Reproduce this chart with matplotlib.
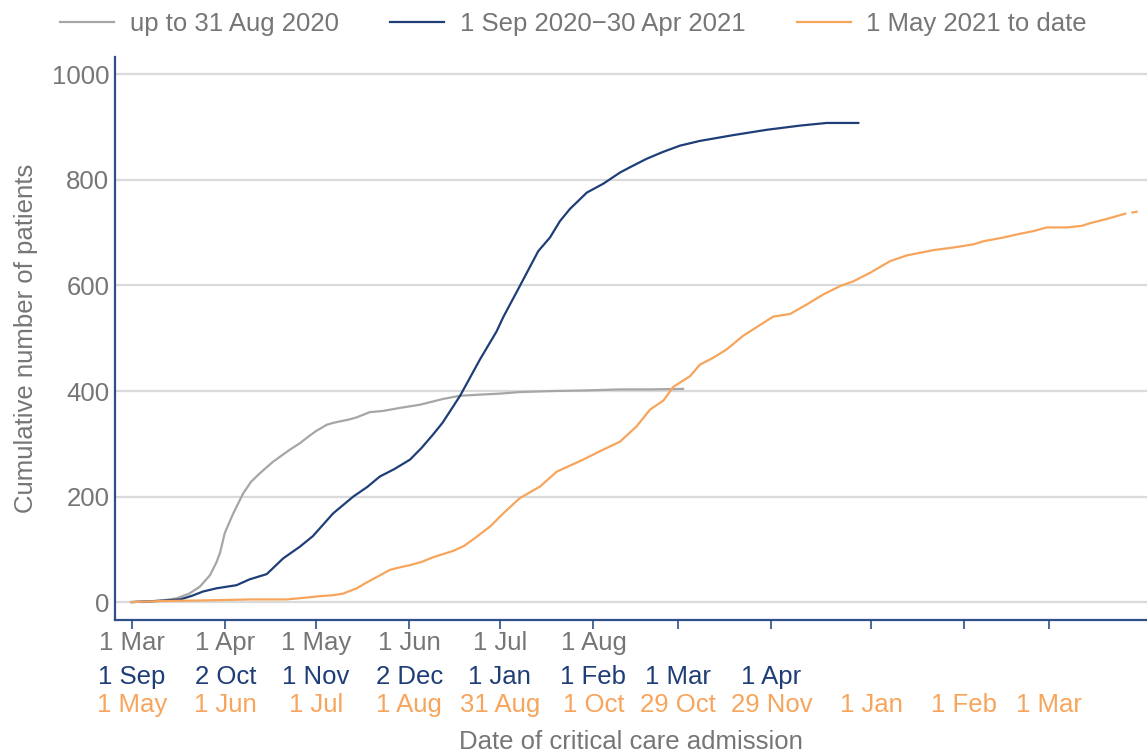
import matplotlib
matplotlib.use("Agg")
import matplotlib.pyplot as plt

plt.rcParams["font.family"] = ["Liberation Sans", "DejaVu Sans"]

COLOR_GRAY = "#a6a6a6"
COLOR_BLUE = "#1f3e77"
COLOR_ORANGE = "#f7a55c"
COLOR_TEXT = "#767676"
COLOR_AXIS = "#2f4f88"
COLOR_GRID = "#dadada"
FS = 18.5

# days since start of each period -> cumulative patients
gray_days = [0, 5, 10, 14.8, 19, 22.5, 25.9, 28, 29.2, 30.8, 33.6, 36.9, 39.5, 42.4,
             46.8, 52.4, 55.7, 57.9, 61, 64.6, 67, 72, 74.5, 78.9, 83, 88.9, 95.5,
             103.2, 108.8, 115, 122, 128.6, 140, 150, 161.8, 171.8, 182.7]
gray_vals = [0, 1, 3, 7, 16, 29, 51, 75, 93, 131, 168, 206, 228, 244,
             266, 289, 301, 311, 324, 336, 340, 346, 350, 360, 362, 368, 374,
             385, 391, 393, 395, 398, 400, 401, 403, 403, 404]

blue_days = [0, 8, 16, 20, 23.6, 28, 34.7, 39, 44.7, 50.2, 55.7, 60, 66.7, 73.4, 78,
             82.2, 87, 92.2, 96, 99.9, 103, 108.8, 115.4, 120.9, 123.1, 128.6, 134.7,
             138.6, 141.9, 145.2, 150.8, 156.3, 161.8, 165.1, 170.6, 176, 181.7, 188.3,
             199.4, 210.4, 221.5, 230.3, 240.8]
blue_vals = [0, 2, 5, 12, 20, 26, 32, 43, 53, 83, 105, 125, 168, 200, 218,
             238, 252, 270, 292, 318, 340, 391, 460, 513, 540, 599, 665,
             691, 722, 745, 776, 793, 814, 824, 840, 853, 865, 874,
             885, 895, 903, 908, 908]

orange_days = [0, 10, 22.5, 40, 51.3, 57, 62, 66.7, 70, 74.5, 77.8, 82, 85.5, 89, 92.2,
               96, 99.9, 106.5, 110, 113.2, 118.7, 123.1, 128.6, 135.3, 140.8, 145,
               149.6, 155.2, 161.8, 167.3, 171.8, 176.2, 179.5, 185, 188.3, 192.7,
               197.2, 202.7, 208.2, 212.6, 218.2, 223.7, 229.2, 234.8, 239.2, 244.7,
               251.3, 256.9, 265.7, 272.4, 279, 282.4, 289, 294.4, 298.8, 303.3, 309.9,
               314.9, 317.6, 323.1, 329.3]
orange_vals = [0, 2, 3, 5, 5, 8, 11, 13, 16, 26, 37, 50, 61, 66, 70,
               76, 85, 97, 106, 119, 143, 168, 197, 219, 247, 258,
               270, 286, 304, 333, 365, 382, 408, 428, 450, 463,
               479, 505, 525, 541, 546, 564, 583, 599, 608, 624,
               646, 657, 667, 672, 678, 684, 691, 698, 703, 710, 710,
               713, 718, 726, 736]
# last few days shown dashed (incomplete)
orange_prov_days = [329.3, 333.4]
orange_prov_vals = [736, 740]

tick_days = [0, 31, 61, 92, 122, 153, 181, 212, 245, 276, 304]
gray_labels = ["1 Mar", "1 Apr", "1 May", "1 Jun", "1 Jul", "1 Aug"]
blue_labels = ["1 Sep", "2 Oct", "1 Nov", "2 Dec", "1 Jan", "1 Feb", "1 Mar", "1 Apr"]
orange_labels = ["1 May", "1 Jun", "1 Jul", "1 Aug", "31 Aug", "1 Oct", "29 Oct",
                 "29 Nov", "1 Jan", "1 Feb", "1 Mar"]

fig = plt.figure(figsize=(11.47, 7.54), dpi=100)
ax = fig.add_axes([115 / 1147, 134 / 754, 1032 / 1147, 563 / 754])

ax.plot(gray_days, gray_vals, color=COLOR_GRAY, lw=1.6, label="up to 31 Aug 2020")
ax.plot(blue_days, blue_vals, color=COLOR_BLUE, lw=1.6, label="1 Sep 2020\u221230 Apr 2021")
ax.plot(orange_days, orange_vals, color=COLOR_ORANGE, lw=1.6, label="1 May 2021 to date")
ax.plot(orange_prov_days, orange_prov_vals, color=COLOR_ORANGE, lw=1.6,
        linestyle=(3.0, (3.0, 2.8)))

ax.set_xlim(-5.6, 336.5)
ax.set_ylim(-34, 1033)
ax.set_yticks([0, 200, 400, 600, 800, 1000])
ax.grid(True, axis="y", color=COLOR_GRID, lw=1.6)
ax.set_axisbelow(True)

for side in ("top", "right"):
    ax.spines[side].set_visible(False)
for side in ("left", "bottom"):
    ax.spines[side].set_color(COLOR_AXIS)
    ax.spines[side].set_linewidth(1.6)

ax.tick_params(axis="y", length=0, pad=4, labelsize=FS, labelcolor=COLOR_TEXT)
ax.set_xticks(tick_days)
ax.set_xticklabels([])
ax.tick_params(axis="x", length=6.5, width=1.2, color=COLOR_AXIS, direction="out")

rows = [(gray_labels, COLOR_TEXT, 16.5), (blue_labels, COLOR_BLUE, 41),
        (orange_labels, COLOR_ORANGE, 61.5)]
for labels, color, off in rows:
    for d, lab in zip(tick_days, labels):
        ax.annotate(lab, xy=(d, 0), xycoords=("data", "axes fraction"),
                    xytext=(0, -off), textcoords="offset points",
                    ha="center", va="center", fontsize=FS, color=color)

ax.annotate("Date of critical care admission", xy=(0.5, 0), xycoords="axes fraction",
            xytext=(0, -88), textcoords="offset points",
            ha="center", va="center", fontsize=FS, color=COLOR_TEXT)
ax.set_ylabel("Cumulative number of patients", fontsize=FS, color=COLOR_TEXT, labelpad=10)

leg = fig.legend(loc="center", bbox_to_anchor=(0.5, 1 - 24 / 754), ncol=3, frameon=False,
                 fontsize=FS, handlelength=2.1, handletextpad=0.6, columnspacing=2.0,
                 labelcolor=COLOR_TEXT)

fig.savefig("out.png", dpi=100)
